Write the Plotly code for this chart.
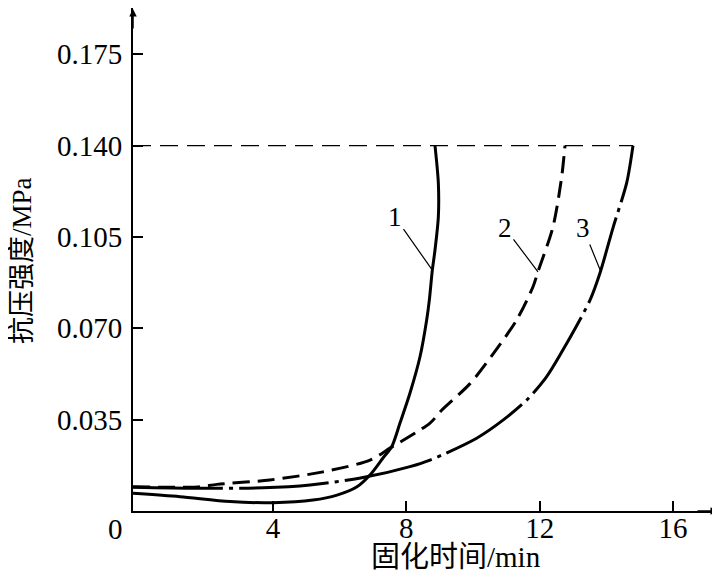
import plotly.graph_objects as go

# curve 1 (solid)
t1 = [-0.2, 1.21, 2.71, 4.0, 5.2, 5.92, 6.52, 6.91, 7.3, 7.56, 7.81, 8.11, 8.41, 8.61, 8.69, 8.78, 8.86, 8.96, 8.96, 8.86]
s1 = [0.0068, 0.0055, 0.0036, 0.0032, 0.0042, 0.0061, 0.0093, 0.0138, 0.0203, 0.0246, 0.0337, 0.0452, 0.0591,
      0.0732, 0.0808, 0.0923, 0.1000, 0.1126, 0.1257, 0.140]
# curve 2 (dashed)
t2 = [-0.2, 1.73, 2.32, 3.91, 5.5, 6.91, 7.51, 8.71, 9.06, 9.91, 10.61, 11.31, 11.8, 11.95, 12.4, 12.66, 12.76]
s2 = [0.0093, 0.0092, 0.0102, 0.0119, 0.0150, 0.0195, 0.0241, 0.0337, 0.0386, 0.0488, 0.0603, 0.0732, 0.0859,
      0.0917, 0.1089, 0.128, 0.140]
# curve 3 (dash-dot)
t3 = [-0.2, 1.72, 3.7, 5.11, 6.7, 8.11, 8.71, 10.11, 10.91, 11.61, 12.21, 12.81, 13.51, 13.82, 14.2, 14.61, 14.8]
s3 = [0.0091, 0.0087, 0.0089, 0.0100, 0.0128, 0.0170, 0.0195, 0.0279, 0.0349, 0.0425, 0.0515, 0.0642, 0.0808,
      0.0916, 0.1085, 0.1257, 0.140]

limit_t = [-0.2, 14.8]
limit_s = [0.140, 0.140]

x_ticks = [4, 8, 12, 16]
y_ticks = [0.035, 0.070, 0.105, 0.140, 0.175]
y_ticktext = ['0.035', '0.070', '0.105', '0.140', '0.175']

# curve labels: (label, text pos x, text pos y, tip x, tip y)
labels = [('1', 7.66, 0.1126, 8.78, 0.0923),
          ('2', 10.96, 0.1084, 11.95, 0.0916),
          ('3', 13.3, 0.1084, 13.84, 0.0916)]

FONT = '"Liberation Serif", "Noto Sans CJK SC", serif'

# plot area in figure pixels (page body adds an 8px offset)
L, T, W, H = 125, 0, 585, 503


def px(fx):
    return (fx - 8 - L) / W


def py(fy):
    return (T + H - (fy - 8)) / H


fig = go.Figure()
fig.add_trace(go.Scatter(x=limit_t, y=limit_s, mode='lines',
                         line=dict(color='black', width=1.3, dash='18px,9px')))
fig.add_trace(go.Scatter(x=t1, y=s1, mode='lines', line=dict(color='black', width=3, shape='spline', smoothing=0.8)))
fig.add_trace(go.Scatter(x=t2, y=s2, mode='lines',
                         line=dict(color='black', width=3, shape='spline', smoothing=0.8, dash='17px,8px')))
fig.add_trace(go.Scatter(x=t3, y=s3, mode='lines',
                         line=dict(color='black', width=3, shape='spline', smoothing=0.8, dash='90px,6px,4px,6px')))

for txt, ax_, ay_, x_, y_ in labels:
    fig.add_annotation(x=x_, y=y_, ax=ax_, ay=ay_, axref='x', ayref='y', text=txt,
                       showarrow=True, arrowhead=0, arrowwidth=1.2, arrowcolor='black',
                       font=dict(family=FONT, size=27, color='black'))

# axis arrows
fig.add_annotation(x=1, y=0, xref='paper', yref='paper', ax=-22, ay=0, text='', showarrow=True,
                   arrowhead=2, arrowsize=1, arrowwidth=1.5, arrowcolor='black')
fig.add_annotation(x=0, y=1, xref='paper', yref='paper', ax=0, ay=22, text='', showarrow=True,
                   arrowhead=2, arrowsize=1, arrowwidth=1.5, arrowcolor='black')

# origin label and axis titles
fig.add_annotation(x=px(115), y=py(529), xref='paper', yref='paper', text='0', showarrow=False,
                   xanchor='center', yanchor='middle', font=dict(family=FONT, size=29, color='black'))
fig.add_annotation(x=px(456), y=py(557), xref='paper', yref='paper', text='固化时间/min', showarrow=False,
                   xanchor='center', yanchor='middle', font=dict(family=FONT, size=29, color='black'))
fig.add_annotation(x=px(22), y=py(261), xref='paper', yref='paper', text='抗压强度/MPa', showarrow=False,
                   xanchor='center', yanchor='middle', textangle=-90,
                   font=dict(family=FONT, size=27, color='black'))

fig.update_xaxes(range=[-0.2, 17.35], tickvals=x_ticks, ticks='inside', ticklen=10, tickwidth=1.5,
                 tickcolor='black', showline=True, linewidth=2, linecolor='black', showgrid=False,
                 zeroline=False, ticklabelstandoff=-10, tickfont=dict(family=FONT, size=29, color='black'))
fig.update_yaxes(range=[0, 503 / 2610], tickvals=y_ticks, ticktext=y_ticktext, ticks='inside', ticklen=10,
                 tickwidth=1.5, tickcolor='black', showline=True, linewidth=2, linecolor='black',
                 showgrid=False, zeroline=False, ticklabelstandoff=3,
                 tickfont=dict(family=FONT, size=29, color='black'))

fig.update_layout(width=712, height=565, margin=dict(l=L, r=712 - L - W, t=T, b=565 - T - H),
                  plot_bgcolor='white', paper_bgcolor='white', showlegend=False)

fig.write_html('out.html')
